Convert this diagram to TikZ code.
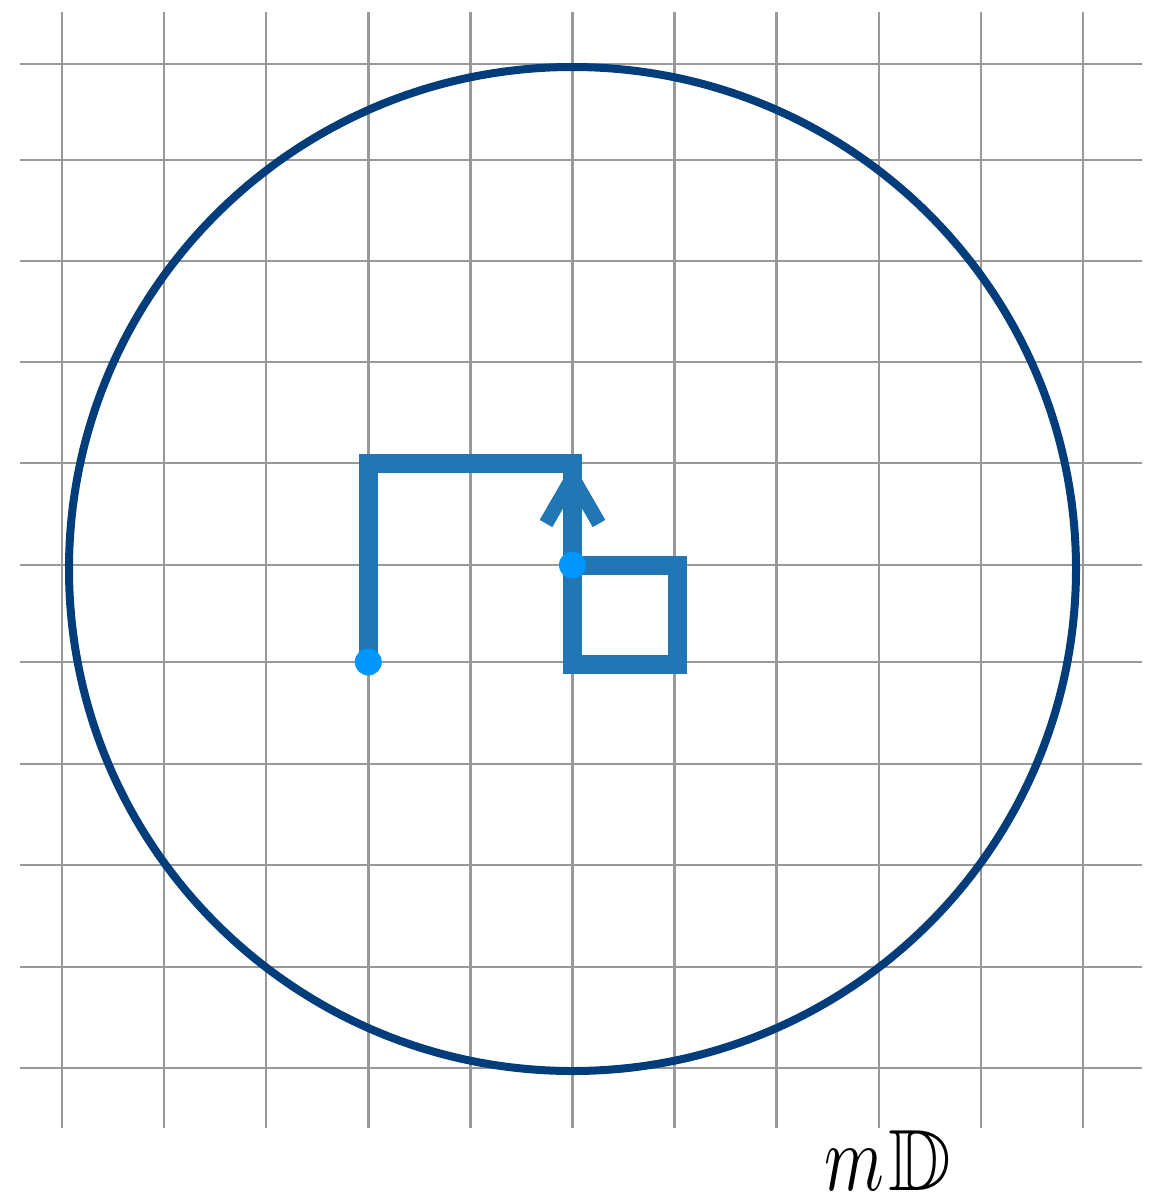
\documentclass[tikz,border=0pt]{standalone}
\usepackage{amssymb}
\definecolor{gridgray}{RGB}{153,153,153}
\definecolor{circblue}{RGB}{0,61,122}
\definecolor{pathblue}{RGB}{32,119,180}
\definecolor{dotblue}{RGB}{0,150,255}
\begin{document}
\begin{tikzpicture}[x=1pt,y=-1pt,
  gridline/.style={gridgray, line width=2.5pt},
  disk/.style={circblue, line width=8pt},
  route/.style={pathblue, line width=19pt, line join=miter, line cap=butt},
  chevron/.style={pathblue, line width=14.5pt, line join=round, line cap=butt},
  spot/.style={fill=dotblue, draw=none}]
\useasboundingbox (0,0) rectangle (1162,1197);
% grid
\foreach \gx in {62,164.1,266.2,368.3,470.4,572.5,674.6,776.7,878.8,980.9,1083}
  \draw[gridline] (\gx,12) -- (\gx,1128);
\foreach \gy in {64,160,261,362,463,565,662,764,865,967,1068}
  \draw[gridline] (20,\gy) -- (1142,\gy);
% circle
\draw[disk] (572.5,569) ellipse [x radius=503.5, y radius=502];
% coordinates
\coordinate (start) at (368.3,662);
\coordinate (corner) at (368.3,463);
\coordinate (top) at (572.5,463);
\coordinate (center) at (572.5,565);
\coordinate (sqa) at (677,565);
\coordinate (sqb) at (677,664.5);
\coordinate (sqc) at (572.5,664.5);
\coordinate (tip) at (572.5,477.6);
\coordinate (armL) at (546,523.5);
\coordinate (armR) at (599,523.5);
% path
\draw[route] (start) -- (corner) -- (top) -- (center);
\draw[route] (center) -- (sqa) -- (sqb) -- (sqc) -- cycle;
\draw[chevron] (armL) -- (tip) -- (armR);
% dots
\fill[spot] (start) circle [radius=13.5];
\fill[spot] (center) circle [radius=13.5];
% label
\node[anchor=base west, inner sep=0pt] (lbl) at (824,1190)
  {\scalebox{6.8}[9.5]{$m$}\hspace{5pt}\scalebox{8.7}{$\mathbb{D}$}};
\end{tikzpicture}
\end{document}
